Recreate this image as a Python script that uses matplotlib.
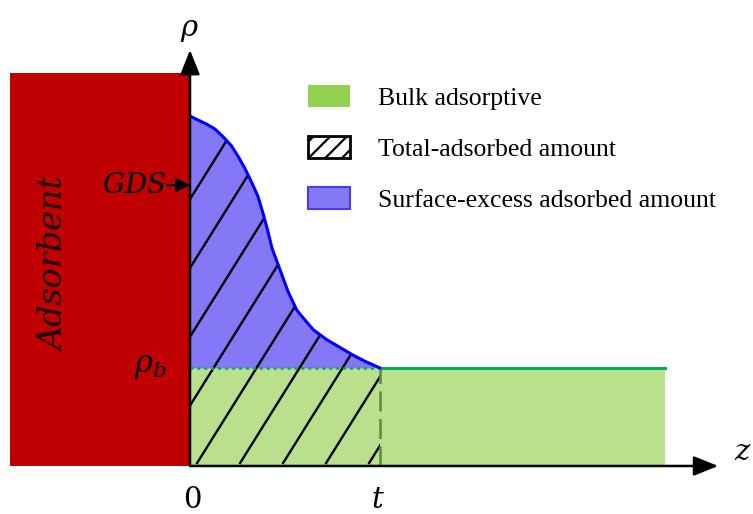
import numpy as np
import matplotlib
matplotlib.use("Agg")
from matplotlib import pyplot as plt
from matplotlib.patches import Patch, Polygon, Rectangle

plt.rcParams["mathtext.fontset"] = "dejavuserif"
plt.rcParams["hatch.linewidth"] = 1.6

# density profile rho(z) (rho_b = 1, t = 1)
z_perfil = [0.0, 0.042, 0.086, 0.130, 0.174, 0.217, 0.253, 0.288, 0.323,
            0.358, 0.384, 0.408, 0.432, 0.474, 0.516, 0.562, 0.596, 0.649,
            0.719, 0.789, 0.859, 0.930, 1.0]
rho_perfil = [3.57, 3.53, 3.49, 3.44, 3.36, 3.27, 3.16, 3.04, 2.90,
              2.75, 2.58, 2.41, 2.22, 2.00, 1.78, 1.59, 1.51, 1.39,
              1.29, 1.21, 1.13, 1.06, 1.0]

t = 1.0
rho_b = 1.0
z_fin_bulk = 2.5
z_fin_eje = 2.78
rho_fin_eje = 4.245
z_adsorbente = -0.947
rho_adsorbente = 4.01
rho_gds = 2.867

etiquetas = ["Bulk adsorptive", "Total-adsorbed amount",
             "Surface-excess adsorbed amount"]

fig = plt.figure(figsize=(7.53, 5.14), dpi=100)
ax = fig.add_axes([0, 0, 1, 1])
ax.set_xlim(-1.0, 2.963)
ax.set_ylim(-0.490, 4.755)
ax.axis("off")

# adsorbente
ax.add_patch(Rectangle((z_adsorbente, 0), -z_adsorbente, rho_adsorbente,
                       facecolor="#C00000", edgecolor="none", zorder=1))
ax.text(-0.71, 2.05, "Adsorbent", rotation=90,
        ha="center", va="center", fontsize=24, family="DejaVu Serif",
        style="italic", color="#1a0000", zorder=2)

# bulk
ax.fill_between([0, z_fin_bulk], 0, rho_b, color="#92D050", alpha=0.65,
                lw=0, zorder=1)
# exceso superficial
ax.fill_between(z_perfil, rho_b, rho_perfil, color="#8478F6", lw=0, zorder=1)

# rayado del total adsorbido, recortado a la region bajo la curva
verts = list(zip(z_perfil, rho_perfil)) + [(t, 0), (0, 0)]
region = Polygon(verts, closed=True, facecolor="none", edgecolor="none")
ax.add_patch(region)
pendiente = 1.6 * 190 / 98
for z0 in np.arange(-0.868, t, 43 / 190):
    ln, = ax.plot([z0, z0 + 4 / pendiente], [0.03, 4.03], color="black",
                  lw=1.7, zorder=3)
    ln.set_clip_path(region)

ax.plot([0, t], [rho_b, rho_b], color="#00B050", lw=2, ls=(0, (1, 1.5)),
        zorder=4)
ax.plot([t, z_fin_bulk], [rho_b, rho_b], color="#00B050", lw=2.2, zorder=4)
ax.plot([t, t], [0, rho_b], color="#5E8C3A", lw=1.8, ls=(0, (8, 3)), zorder=4)
ax.plot(z_perfil, rho_perfil, color="#0000FF", lw=2.2, zorder=5,
        solid_capstyle="round", solid_joinstyle="round")

# ejes
flecha = dict(arrowstyle="-|>,head_length=0.75,head_width=0.3", lw=1.8,
              color="black", shrinkA=0, shrinkB=0, mutation_scale=20)
ax.annotate("", xy=(0, rho_fin_eje), xytext=(0, 0), arrowprops=flecha,
            zorder=6)
ax.annotate("", xy=(z_fin_eje, 0), xytext=(0, 0), arrowprops=flecha,
            zorder=6)
ax.annotate("", xy=(0, rho_gds), xytext=(-0.121, rho_gds),
            arrowprops=dict(arrowstyle="-|>,head_length=0.6,head_width=0.3",
                            lw=1.5, color="black", shrinkA=0, shrinkB=0,
                            mutation_scale=14), zorder=6)

ax.text(0.0, 4.45, r"$\rho$", ha="center", va="center", fontsize=21)
ax.text(-0.128, rho_gds, r"$GDS$", ha="right", va="center", fontsize=20)
ax.text(-0.21, rho_b + 0.02, r"$\rho_b$", ha="center", va="center",
        fontsize=22)
ax.text(0.01, -0.35, "0", ha="center", va="center", fontsize=21,
        family="DejaVu Serif")
ax.text(t - 0.01, -0.35, r"$t$", ha="center", va="center", fontsize=21)
ax.text(2.91, 0.14, r"$z$", ha="center", va="center", fontsize=21)

handles = [
    Patch(facecolor="#92D050", edgecolor="none"),
    Patch(facecolor="white", edgecolor="black", hatch="//", lw=2),
    Patch(facecolor="#8478F6", edgecolor="#4A3AF0", lw=1.5),
]
ax.legend(handles, etiquetas, loc="upper left",
          bbox_to_anchor=(308 / 753, 1 - 85 / 514), frameon=False,
          borderaxespad=0, borderpad=0, handlelength=1.63, handleheight=0.93,
          handletextpad=1.09, labelspacing=1.02,
          prop={"family": "Liberation Serif", "size": 18.5})

fig.savefig("out.png", dpi=100)
